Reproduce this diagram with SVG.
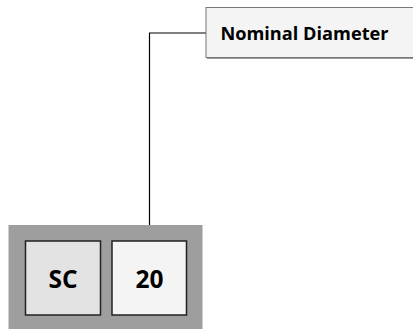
<svg xmlns="http://www.w3.org/2000/svg" width="413" height="329" viewBox="0 0 413 329">
<style>
.lbl{font-family:"Open Sans","Noto Sans",sans-serif;font-weight:bold;fill:#000;text-anchor:middle}
.box{stroke:#222;stroke-width:1.5}
.con{stroke:#000;stroke-width:1.2;fill:none}
</style>
<rect x="0" y="0" width="413" height="329" fill="#fff"/>
<g id="connectors">
<polyline class="con" points="149.5,241 149.5,33 206,33"/>
<line class="con" x1="64.5" y1="315" x2="64.5" y2="329"/>
</g>
<g id="panel">
<rect x="8.5" y="225" width="194" height="104" fill="#9d9e9d"/>
</g>
<g id="node-sc">
<rect x="25.5" y="241" width="75" height="74" fill="#e3e3e3" class="box"/>
<text x="63" y="288" class="lbl" font-size="24.5">SC</text>
</g>
<g id="node-20">
<rect x="112" y="241" width="74.5" height="74" fill="#f4f4f4" class="box"/>
<text x="149.5" y="288" class="lbl" font-size="24.5">20</text>
</g>
<g id="node-nominal">
<rect x="207" y="9" width="210" height="50" fill="#999"/>
<rect x="206" y="7.5" width="210" height="50" fill="#f4f4f4" stroke="#777" stroke-width="1"/>
<text x="304.5" y="40" class="lbl" font-size="18.2">Nominal Diameter</text>
</g>
</svg>
